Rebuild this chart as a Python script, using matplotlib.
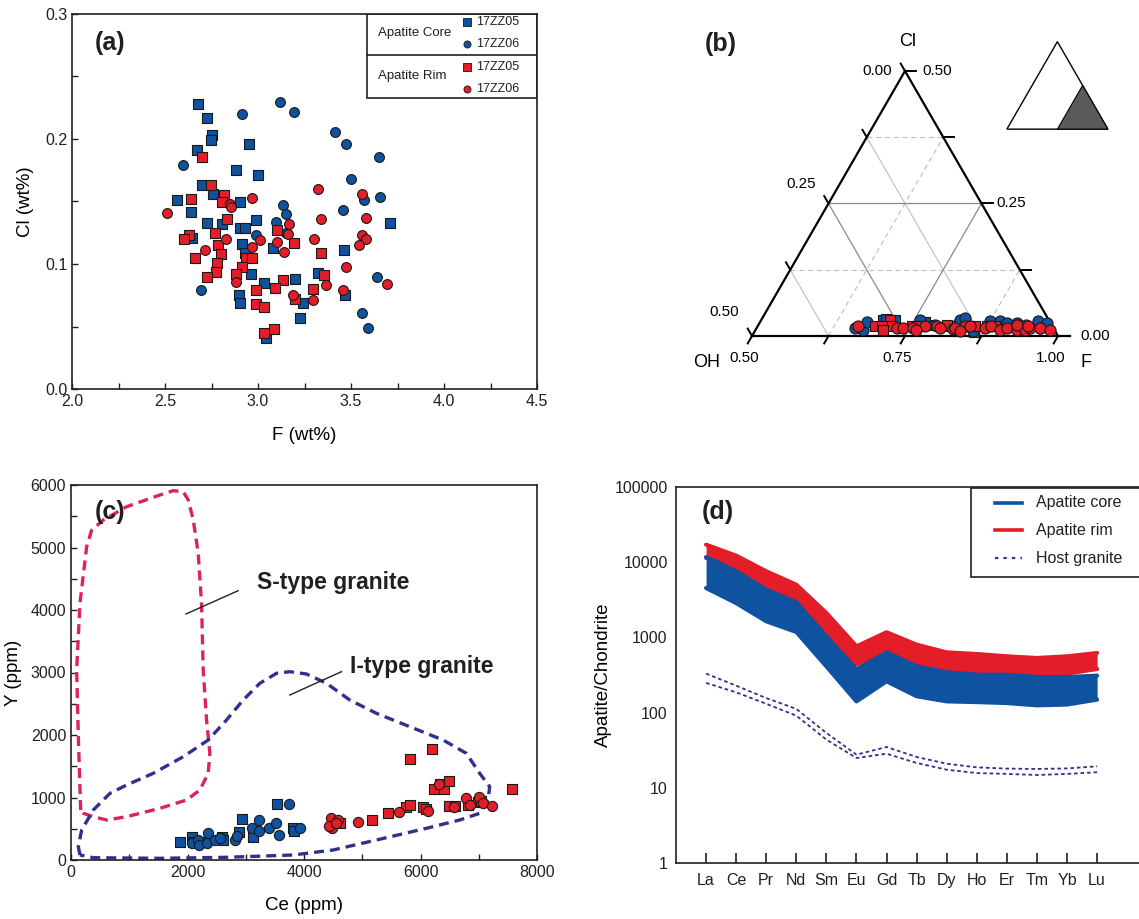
import numpy as np
import matplotlib
matplotlib.use("Agg")
import matplotlib.pyplot as plt
from matplotlib.ticker import MultipleLocator, FixedLocator, FuncFormatter, NullLocator

plt.rcParams['font.family'] = ['Liberation Sans', 'DejaVu Sans']

BLUE = '#0e52a0'
RED = '#e31e28'
NAVY = '#2e3192'
PINK = '#dc2266'
INK = '#231f20'

# ---- (a) F vs Cl (wt%)
core05_F = [2.679, 2.724, 2.751, 2.746, 2.952, 2.670, 2.880, 3.002, 2.697, 2.756, 2.566, 2.903,
            2.638, 2.726, 2.808, 2.905, 2.932, 2.987, 3.710, 2.645, 2.914, 2.930, 3.082, 3.462,
            2.962, 3.032, 3.201, 3.321, 2.900, 2.905, 3.244, 3.468, 3.224, 3.045]
core05_Cl = [0.228, 0.217, 0.203, 0.199, 0.196, 0.191, 0.175, 0.171, 0.163, 0.156, 0.151, 0.150,
             0.142, 0.133, 0.132, 0.129, 0.129, 0.135, 0.133, 0.121, 0.116, 0.109, 0.113, 0.111,
             0.092, 0.085, 0.088, 0.093, 0.075, 0.069, 0.069, 0.075, 0.057, 0.041]
core06_F = [3.117, 3.195, 2.912, 3.414, 3.471, 3.652, 2.599, 3.500, 3.656, 3.568, 3.136, 3.152,
            3.455, 3.095, 3.149, 2.987, 3.640, 2.694, 3.561, 3.591]
core06_Cl = [0.230, 0.222, 0.220, 0.206, 0.196, 0.186, 0.179, 0.168, 0.154, 0.151, 0.147, 0.140,
             0.143, 0.134, 0.125, 0.123, 0.090, 0.079, 0.061, 0.049]
rim05_F = [2.699, 2.746, 2.819, 2.642, 2.808, 2.835, 2.771, 3.100, 2.631, 2.604, 2.787, 3.195,
           2.799, 2.659, 2.937, 2.970, 2.781, 2.914, 2.776, 2.880, 3.341, 2.724, 3.355, 3.134,
           2.987, 3.093, 3.297, 3.197, 2.991, 3.034, 3.086, 3.034]
rim05_Cl = [0.186, 0.163, 0.155, 0.152, 0.150, 0.136, 0.125, 0.127, 0.123, 0.120, 0.115, 0.117,
            0.108, 0.105, 0.105, 0.105, 0.101, 0.098, 0.094, 0.092, 0.109, 0.090, 0.091, 0.087,
            0.079, 0.081, 0.080, 0.072, 0.068, 0.066, 0.048, 0.045]
rim06_F = [2.511, 2.849, 2.855, 2.970, 3.321, 3.559, 3.579, 3.341, 3.167, 3.161, 2.830, 3.011,
           3.102, 3.299, 3.561, 3.581, 3.545, 2.968, 2.717, 3.140, 3.471, 2.882, 3.364, 3.694,
           3.459, 3.188, 3.294]
rim06_Cl = [0.141, 0.148, 0.146, 0.153, 0.160, 0.156, 0.137, 0.136, 0.132, 0.124, 0.120, 0.119,
            0.118, 0.120, 0.123, 0.120, 0.115, 0.114, 0.111, 0.110, 0.098, 0.086, 0.083, 0.084,
            0.079, 0.075, 0.071]

# ---- (b) ternary, mole fractions (F, Cl)
t_core05_F = [0.699, 0.718, 0.777, 0.858, 0.703, 0.769]
t_core05_Cl = [0.031, 0.031, 0.021, 0.008, 0.033, 0.027]
t_core06_F = [0.661, 0.676, 0.759, 0.788, 0.825, 0.825, 0.831, 0.857, 0.875, 0.891, 0.904,
              0.920, 0.938, 0.954, 0.969, 0.963, 0.935, 0.674]
t_core06_Cl = [0.015, 0.012, 0.031, 0.021, 0.025, 0.031, 0.034, 0.009, 0.028, 0.028, 0.025,
               0.025, 0.021, 0.028, 0.025, 0.015, 0.011, 0.027]
t_rim05_F = [0.710, 0.692, 0.703, 0.719, 0.708, 0.752, 0.760, 0.814, 0.847, 0.888, 0.855,
             0.874, 0.808]
t_rim05_Cl = [0.031, 0.018, 0.018, 0.018, 0.012, 0.018, 0.018, 0.018, 0.018, 0.018, 0.019,
              0.019, 0.021]
t_rim06_F = [0.664, 0.729, 0.740, 0.756, 0.773, 0.793, 0.800, 0.822, 0.824, 0.839, 0.836,
             0.873, 0.882, 0.899, 0.909, 0.927, 0.940, 0.947, 0.963, 0.981, 0.763, 0.847,
             0.922, 0.942]
t_rim06_Cl = [0.018, 0.015, 0.015, 0.015, 0.018, 0.018, 0.015, 0.014, 0.015, 0.018, 0.009,
              0.015, 0.018, 0.012, 0.015, 0.012, 0.012, 0.015, 0.015, 0.012, 0.011, 0.018,
              0.021, 0.019]

# ---- (c) Ce vs Y (ppm)
c_core05_Ce = [1870, 2070, 2098, 2299, 2585, 2613, 2882, 2939, 3116, 3539, 3814, 3825]
c_core05_Y = [293, 373, 293, 293, 373, 320, 453, 651, 373, 891, 507, 464]
c_core06_Ce = [2070, 2184, 2201, 2327, 2356, 2470, 2556, 2813, 2842, 3099, 3225, 3231, 3402,
               3517, 3568, 3740, 3928]
c_core06_Y = [277, 320, 240, 277, 427, 320, 347, 320, 384, 507, 640, 464, 507, 587, 400, 891, 507]
c_rim05_Ce = [4614, 5169, 5444, 5758, 5827, 5827, 6044, 6101, 6198, 6227, 6341, 6404, 6490,
              6490, 6587, 6816, 7571, 6987, 7045]
c_rim05_Y = [597, 640, 747, 853, 880, 1611, 843, 811, 1776, 1131, 1216, 1131, 1264, 869, 864,
             880, 1131, 933, 949]
c_rim06_Ce = [4471, 4586, 4489, 4432, 4557, 4929, 5627, 6130, 6318, 6576, 6787, 6845, 7005,
              7073, 7228]
c_rim06_Y = [667, 640, 507, 544, 587, 613, 773, 789, 1216, 853, 987, 880, 1013, 907, 864]

s_field_Ce = [166, 126, 97, 154, 269, 355, 555, 955, 1527, 1755, 1927, 2013, 2099, 2184, 2241,
              2270, 2327, 2384, 2356, 2213, 1984, 1527, 955, 612, 383, 212, 166]
s_field_Y = [800, 1973, 3040, 4107, 5013, 5280, 5440, 5653, 5840, 5909, 5893, 5760, 5440, 4907,
             4107, 3040, 2240, 1707, 1387, 1120, 960, 827, 693, 640, 693, 747, 800]
i_field_Ce = [154, 126, 183, 383, 669, 955, 1412, 1927, 2356, 2670, 2956, 3242, 3528, 3757,
              4043, 4386, 4786, 5243, 5815, 6387, 6787, 7016, 7188, 7159, 7016, 6673, 6101,
              5243, 4500, 3814, 2670, 1527, 383, 154]
i_field_Y = [80, 213, 480, 800, 1067, 1200, 1387, 1653, 1920, 2240, 2560, 2827, 2987, 3013,
             2976, 2827, 2560, 2347, 2133, 1920, 1707, 1387, 1173, 960, 747, 640, 507, 320, 160,
             80, 43, 27, 37, 80]

# ---- (d) chondrite-normalised REE
ree = ['La', 'Ce', 'Pr', 'Nd', 'Sm', 'Eu', 'Gd', 'Tb', 'Dy', 'Ho', 'Er', 'Tm', 'Yb', 'Lu']
rim_upper = [17100, 12200, 7570, 5020, 2110, 760, 1170, 800, 632, 601, 560, 532, 560, 620]
rim_lower = [11400, 7940, 4540, 3020, 1140, 434, 653, 412, 354, 336, 330, 310, 330, 380]
core_upper = [11700, 7570, 4310, 2930, 1030, 373, 632, 412, 343, 319, 319, 297, 297, 310]
core_lower = [4540, 2860, 1640, 1180, 412, 141, 261, 165, 141, 138, 134, 125, 128, 149]
host_upper = [330, 228, 156, 112, 53.6, 27.6, 34.9, 25.7, 20.9, 18.7, 18.0, 17.8, 18.1, 19.3]
host_lower = [248, 186, 131, 91, 43.7, 24.9, 28.4, 21.4, 17.4, 15.7, 15.3, 14.8, 15.3, 16.1]

fig = plt.figure(figsize=(11.39, 9.19), dpi=100)


def frame(ax, lw=1.2):
    for sp in ax.spines.values():
        sp.set_linewidth(lw)
        sp.set_color(INK)


def pts(ax, x, y, color, marker, s=44, **kw):
    ax.scatter(x, y, s=s, c=color, marker=marker, edgecolors='#1a1a1a', linewidths=0.8,
               zorder=3, **kw)


# ================= (a)
ax1 = fig.add_axes([72/1139, 1-389/919, 465/1139, 375/919])
pts(ax1, core05_F, core05_Cl, BLUE, 's')
pts(ax1, core06_F, core06_Cl, BLUE, 'o', s=50)
pts(ax1, rim05_F, rim05_Cl, RED, 's')
pts(ax1, rim06_F, rim06_Cl, RED, 'o', s=50)
ax1.set_xlim(2.0, 4.5)
ax1.set_ylim(0, 0.3)
ax1.xaxis.set_major_locator(MultipleLocator(0.5))
ax1.xaxis.set_minor_locator(MultipleLocator(0.25))
ax1.yaxis.set_major_locator(MultipleLocator(0.1))
ax1.yaxis.set_minor_locator(MultipleLocator(0.05))
ax1.xaxis.set_major_formatter(FuncFormatter(lambda v, p: '%.1f' % v))
ax1.yaxis.set_major_formatter(FuncFormatter(lambda v, p: '%.1f' % v))
ax1.tick_params(which='both', direction='in', length=4, width=1, labelsize=11.5, colors=INK)
ax1.set_xlabel('F (wt%)', fontsize=13.5)
ax1.set_ylabel('Cl (wt%)', fontsize=13.5)
ax1.xaxis.set_label_coords(0.5, -0.102)
ax1.yaxis.set_label_coords(-0.082, 0.5)
frame(ax1)
ax1.text(0.049, 0.923, '(a)', transform=ax1.transAxes, fontsize=18, fontweight='bold',
         color=INK, va='center')

# custom legend box for (a)
def axf(px, py):
    return (px - 72) / 465, (389 - py) / 375

lx0, ly0 = axf(367, 98)
lx1, ly1 = axf(537, 14)
ax1.add_patch(plt.Rectangle((lx0, ly0), lx1 - lx0, ly1 - ly0, transform=ax1.transAxes,
                            fill=False, edgecolor=INK, lw=1.2, zorder=4))
sx0, sy = axf(367, 54.5)
ax1.plot([sx0, 1.0], [sy, sy], transform=ax1.transAxes, color=INK, lw=1.2, zorder=4)
for txt, py in [('Apatite Core', 33), ('Apatite Rim', 76)]:
    tx, ty = axf(378, py)
    ax1.text(tx, ty, txt, transform=ax1.transAxes, fontsize=9.5, va='center', color=INK)
for col, mk, py, lab in [(BLUE, 's', 22, '17ZZ05'), (BLUE, 'o', 44, '17ZZ06'),
                         (RED, 's', 66.5, '17ZZ05'), (RED, 'o', 89, '17ZZ06')]:
    mx, my = axf(467, py)
    ax1.scatter([mx], [my], s=26, c=col, marker=mk, edgecolors='#1a1a1a', linewidths=0.6,
                transform=ax1.transAxes, zorder=5)
    tx, ty = axf(476, py)
    ax1.text(tx, ty, lab, transform=ax1.transAxes, fontsize=9, va='center', color=INK)

# ================= (b) ternary
ax2 = fig.add_axes([680/1139, 1-380/919, 459/1139, 380/919])
ax2.set_xlim((680-752)/306, (1139-752)/306)
ax2.set_ylim((336-380)/306, 336/306)
ax2.axis('off')
H = np.sqrt(3) / 2


def tern(F, Cl):
    F = np.asarray(F, float)
    Cl = np.asarray(Cl, float)
    v = 2 * F - 1
    w = 2 * Cl
    return v + 0.5 * w, w * H


# grid
for val in [0.125, 0.25, 0.375]:
    major = val == 0.25
    col = '#8a8a8a' if major else '#c4c4c4'
    ls = '-' if major else (0, (4, 3))
    # constant Cl
    x, y = tern([0.5, 1 - val], [val, val])
    ax2.plot(x, y, color=col, lw=0.9, ls=ls, zorder=1)
    # constant F
    f = 0.5 + val
    x, y = tern([f, f], [0, 1 - f])
    ax2.plot(x, y, color=col, lw=0.9, ls=ls, zorder=1)
    # constant OH
    x, y = tern([0.5, 1 - val], [0.5 - val, 0])
    ax2.plot(x, y, color=col, lw=0.9, ls='-', zorder=1)

# edges
x, y = tern([0.5, 0.5, 1.0], [0.5, 0.0, 0.0])
ax2.plot([x[0], x[1]], [y[0], y[1]], color='black', lw=1.6, zorder=2)
ax2.plot([x[0], x[2]], [y[0], y[2]], color='black', lw=1.6, zorder=2)
ax2.plot([0, 1.04], [0, 0], color='black', lw=1.6, zorder=2)

tl = 0.028
for k in range(5):
    t = k * 0.125
    # bottom (F)
    bx, by = tern(0.5 + t, 0)
    ax2.plot([bx, bx - 0.5 * tl], [by, by - H * tl], color='black', lw=1.4)
    # left (OH)
    lx, ly = tern(0.5, 0.5 - t)
    ax2.plot([lx, lx - 0.5 * tl], [ly, ly + H * tl], color='black', lw=1.4)
    # right (Cl)
    rx, ry = tern(1 - t, t)
    ax2.plot([rx, rx + 1.3 * tl], [ry, ry], color='black', lw=1.4)

for t, lab in [(0.0, '0.50'), (0.25, '0.75'), (0.5, '1.00')]:
    bx, by = tern(0.5 + t, 0)
    ax2.text(bx - 0.025, by - 0.072, lab, ha='center', va='center', fontsize=11)
for t, lab, dy in [(0.0, '0.00', 0.0), (0.25, '0.25', 0.064), (0.5, '0.50', 0.078)]:
    lx, ly = tern(0.5, 0.5 - t)
    ax2.text(lx - 0.042, ly + dy, lab, ha='right', va='center', fontsize=11)
for t, lab, dx in [(0.0, '0.00', 0.072), (0.25, '0.25', 0.05), (0.5, '0.50', 0.056)]:
    rx, ry = tern(1 - t, t)
    ax2.text(rx + dx, ry, lab, ha='left', va='center', fontsize=11)

ax2.text(0.51, 0.961, 'Cl', ha='center', va='center', fontsize=13)
ax2.text(-0.147, -0.088, 'OH', ha='center', va='center', fontsize=13)
ax2.text(1.092, -0.088, 'F', ha='center', va='center', fontsize=13)
ax2.text(-0.154, 0.953, '(b)', ha='left', va='center', fontsize=18, fontweight='bold',
         color=INK)

x, y = tern(t_core05_F, t_core05_Cl)
pts(ax2, x, y, BLUE, 's', s=58)
x, y = tern(t_core06_F, t_core06_Cl)
pts(ax2, x, y, BLUE, 'o', s=64)
x, y = tern(t_rim05_F, t_rim05_Cl)
pts(ax2, x, y, RED, 's', s=58)
x, y = tern(t_rim06_F, t_rim06_Cl)
pts(ax2, x, y, RED, 'o', s=64)

# inset: whole OH-F-Cl triangle with the plotted sub-field shaded
ix0, iy0, isc = 0.833, 0.676, 0.33


def full(F, Cl):
    F = np.asarray(F, float)
    Cl = np.asarray(Cl, float)
    return ix0 + isc * (F + 0.5 * Cl), iy0 + isc * Cl * H


x, y = full([0, 1, 0, 0], [0, 0, 1, 0])
ax2.fill(x, y, facecolor='white', edgecolor='black', lw=1.0, zorder=2)
x, y = full([0.5, 1, 0.5], [0, 0, 0.5])
ax2.fill(x, y, facecolor='#5a5a5a', edgecolor='black', lw=0.8, zorder=3)

# ================= (c)
ax3 = fig.add_axes([71/1139, 1-860/919, 466/1139, 375/919])
ax3.plot(s_field_Ce, s_field_Y, color=PINK, lw=2.4, ls=(0, (3, 1.8)), zorder=2)
ax3.plot(i_field_Ce, i_field_Y, color=NAVY, lw=2.4, ls=(0, (3, 1.8)), zorder=2)
pts(ax3, c_core05_Ce, c_core05_Y, BLUE, 's', s=46)
pts(ax3, c_core06_Ce, c_core06_Y, BLUE, 'o', s=54)
pts(ax3, c_rim05_Ce, c_rim05_Y, RED, 's', s=46)
pts(ax3, c_rim06_Ce, c_rim06_Y, RED, 'o', s=54)
ax3.plot([1973, 2870], [3936, 4309], color=INK, lw=1.0)
ax3.plot([3757, 4643], [2640, 3013], color=INK, lw=1.0)
ax3.text(3193, 4432, 'S-type granite', fontsize=16.5, fontweight='bold', va='center',
         color=INK)
ax3.text(4790, 3088, 'I-type granite', fontsize=16.5, fontweight='bold', va='center',
         color=INK)
ax3.set_xlim(0, 8000)
ax3.set_ylim(0, 6000)
ax3.xaxis.set_major_locator(MultipleLocator(2000))
ax3.xaxis.set_minor_locator(MultipleLocator(1000))
ax3.yaxis.set_major_locator(MultipleLocator(1000))
ax3.yaxis.set_minor_locator(MultipleLocator(500))
ax3.tick_params(which='both', direction='in', length=4, width=1, labelsize=11.5, colors=INK)
ax3.set_xlabel('Ce (ppm)', fontsize=13.5)
ax3.set_ylabel('Y (ppm)', fontsize=13.5)
ax3.xaxis.set_label_coords(0.5, -0.098)
ax3.yaxis.set_label_coords(-0.106, 0.5)
frame(ax3)
ax3.text(0.051, 0.928, '(c)', transform=ax3.transAxes, fontsize=18, fontweight='bold',
         color=INK, va='center')

# ================= (d)
ax4 = fig.add_axes([676/1139, 1-863/919, 463/1139, 376/919])
xs = np.arange(1, len(ree) + 1)
ax4.fill_between(xs, rim_lower, rim_upper, color=RED, lw=0, zorder=2)
ax4.plot(xs, rim_upper, color=RED, lw=3, solid_capstyle='round', zorder=2)
ax4.plot(xs, rim_lower, color=RED, lw=3, solid_capstyle='round', zorder=2)
ax4.fill_between(xs, core_lower, core_upper, color=BLUE, lw=0, zorder=3)
ax4.plot(xs, core_upper, color=BLUE, lw=3, solid_capstyle='round', zorder=3)
ax4.plot(xs, core_lower, color=BLUE, lw=3, solid_capstyle='round', zorder=3)
ax4.plot(xs, host_upper, color=NAVY, lw=1.3, ls=(0, (2, 1.6)), zorder=3)
ax4.plot(xs, host_lower, color=NAVY, lw=1.3, ls=(0, (2, 1.6)), zorder=3)


def dxf(px, py):
    return (px - 676) / 463, (863 - py) / 376

# custom legend box for (d), running off the right edge as in the original
bx0, by0 = dxf(971, 577)
bx1, by1 = dxf(1160, 488)
ax4.add_patch(plt.Rectangle((bx0, by0), bx1 - bx0, by1 - by0, transform=ax4.transAxes,
                            facecolor='white', edgecolor=INK, lw=1.2, zorder=6,
                            clip_on=False))
for py, col, lw, ls, lab in [(503, BLUE, 2.6, '-', 'Apatite core'),
                             (530, RED, 2.6, '-', 'Apatite rim'),
                             (558, NAVY, 1.6, (0, (1.5, 2.3)), 'Host granite')]:
    hx0, hy = dxf(995, py)
    hx1, _ = dxf(1022, py)
    ax4.plot([hx0, hx1], [hy, hy], transform=ax4.transAxes, color=col, lw=lw, ls=ls,
             zorder=7, clip_on=False)
    tx, _ = dxf(1036, py)
    ax4.text(tx, hy, lab, transform=ax4.transAxes, fontsize=11.5, va='center', color=INK,
             zorder=7)

ax4.set_yscale('log')
ax4.set_ylim(1, 100000)
ax4.set_xlim(0, 463 / 30.08)
ax4.set_xticks(xs)
ax4.set_xticklabels(ree)
ax4.yaxis.set_major_locator(FixedLocator([1, 10, 100, 1000, 10000, 100000]))
ax4.yaxis.set_minor_locator(NullLocator())
ax4.yaxis.set_major_formatter(FuncFormatter(lambda v, p: '%d' % v))
ax4.tick_params(axis='x', direction='in', length=7, width=1.2, labelsize=11.5, pad=7,
                colors=INK)
ax4.tick_params(axis='y', length=0, labelsize=11.5, pad=6, colors=INK)
ax4.set_ylabel('Apatite/Chondrite', fontsize=13.5)
ax4.yaxis.set_label_coords(-0.138, 0.5)
frame(ax4)
ax4.spines['right'].set_visible(False)
ax4.text(0.056, 0.934, '(d)', transform=ax4.transAxes, fontsize=18, fontweight='bold',
         color=INK, va='center')

fig.savefig('out.png', dpi=100)
